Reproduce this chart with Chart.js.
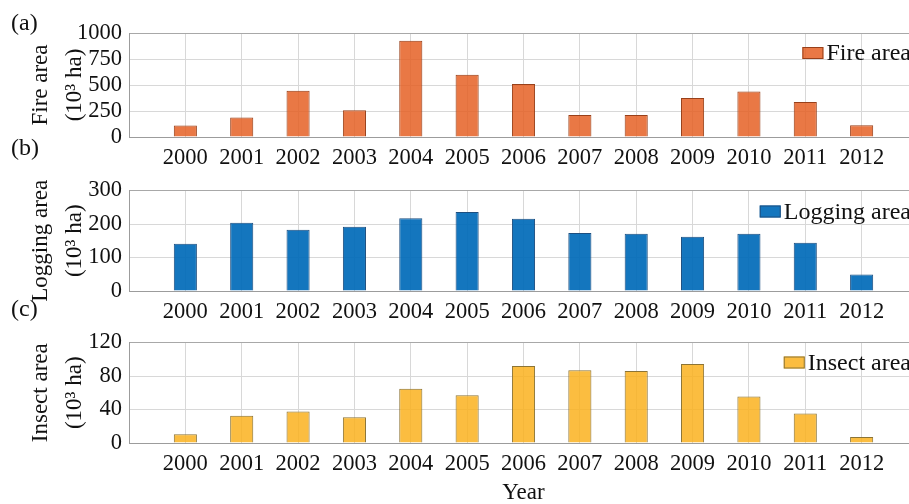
<!DOCTYPE html>
<html>
<head>
<meta charset="utf-8">
<script src="https://cdn.jsdelivr.net/npm/chart.js@4.4.0/dist/chart.umd.min.js"></script>
<style>
    html, body { margin: 0; padding: 0; background: #fff; }
    body { width: 909px; height: 504px; overflow: hidden; position: relative; }
    canvas { position: absolute; left: 0; }
    .panel-tag {
        position: absolute;
        left: 11px;
        font-family: "Liberation Serif", "Times New Roman", serif;
        font-size: 24px;
        line-height: 24px;
        color: #111;
    }
</style>
</head>
<body>
<canvas id="fireChart" width="940" height="170" style="top:0px"></canvas>
<canvas id="loggingChart" width="940" height="152" style="top:170px"></canvas>
<canvas id="insectChart" width="940" height="182" style="top:322px"></canvas>
<div class="panel-tag" style="top:10px">(a)</div>
<div class="panel-tag" style="top:135px">(b)</div>
<div class="panel-tag" style="top:296px">(c)</div>

<script>
// Data (10^3 ha)
const years = [2000, 2001, 2002, 2003, 2004, 2005, 2006, 2007, 2008, 2009, 2010, 2011, 2012];
const fireArea = [110, 188, 444, 257, 926, 599, 509, 212, 212, 376, 438, 336, 113];
const loggingArea = [141, 204, 183, 192, 217, 236, 216, 173, 171, 162, 171, 144, 49];
const insectArea = [10.4, 32.6, 37.6, 30.6, 64.8, 57, 92, 87, 86, 94.4, 55.6, 35.2, 7.3];

// Tick labels
const fireTicks = [0, 250, 500, 750, 1000];
const loggingTicks = [0, 100, 200, 300];
const insectTicks = [0, 40, 80, 120];

const SERIF = '"Liberation Serif", "Times New Roman", serif';
const GRID = '#d8d8d8';
const AXIS = '#9c9c9c';

/**
 * Small legend drawn in the top right corner of the plot area
 */
const cornerLegend = {
    id: 'cornerLegend',
    afterDraw(chart, args, opts) {
        const ctx = chart.ctx;
        const area = chart.chartArea;
        ctx.save();
        ctx.font = '24px ' + SERIF;
        const textW = ctx.measureText(opts.label).width;
        const textX = 911 - textW;
        const midY = area.top + opts.dy;
        ctx.fillStyle = opts.fill;
        ctx.strokeStyle = opts.edge;
        ctx.lineWidth = 1;
        ctx.fillRect(textX - 24, midY - 6, 21, 12);
        ctx.strokeRect(textX - 24 + 0.5, midY - 6 + 0.5, 20, 11);
        ctx.fillStyle = '#111';
        ctx.textBaseline = 'middle';
        ctx.textAlign = 'left';
        ctx.fillText(opts.label, textX, midY + 1);
        ctx.restore();
    }
};

/**
 * Create one bar panel
 */
function createPanel(canvasId, values, yTicks, titleLines, legendLabel, fill, edge, layout) {
    const ctx = document.getElementById(canvasId).getContext('2d');

    return new Chart(ctx, {
        type: 'bar',
        data: {
            datasets: [{
                label: legendLabel,
                data: years.map((yr, i) => ({ x: yr, y: values[i] })),
                backgroundColor: fill,
                borderColor: edge,
                borderWidth: 1,
                barPercentage: 0.41,
                categoryPercentage: 1
            }]
        },
        options: {
            responsive: false,
            animation: false,
            layout: {
                padding: { top: layout.top, right: 22, left: 0, bottom: 0 }
            },
            plugins: {
                legend: { display: false },
                tooltip: { enabled: false },
                cornerLegend: { label: legendLabel, fill: fill, edge: edge, dy: layout.legendDy }
            },
            scales: {
                x: {
                    type: 'linear',
                    min: 1999,
                    max: 2013,
                    offset: false,
                    afterBuildTicks: scale => {
                        scale.ticks = years.map(v => ({ value: v }));
                    },
                    afterFit: scale => {
                        scale.height = layout.xHeight;
                    },
                    ticks: {
                        color: '#111',
                        padding: 8,
                        maxRotation: 0,
                        autoSkip: false,
                        font: { family: SERIF, size: 22.5 },
                        callback: v => String(v)
                    },
                    grid: {
                        color: GRID,
                        offset: false,
                        drawTicks: false
                    },
                    border: { color: AXIS },
                    title: {
                        display: !!layout.xTitle,
                        text: layout.xTitle || '',
                        color: '#111',
                        padding: 0,
                        font: { family: SERIF, size: 23, lineHeight: 1 }
                    }
                },
                y: {
                    min: yTicks[0],
                    max: yTicks[yTicks.length - 1],
                    afterBuildTicks: scale => {
                        scale.ticks = yTicks.map(v => ({ value: v }));
                    },
                    afterFit: scale => {
                        scale.width = 129;
                    },
                    ticks: {
                        color: '#111',
                        padding: 7,
                        autoSkip: false,
                        font: { family: SERIF, size: 22.5 },
                        callback: v => String(v)
                    },
                    grid: {
                        color: c => (c.tick && c.tick.value === yTicks[yTicks.length - 1]) ? '#a8a8a8' : GRID,
                        drawTicks: false
                    },
                    border: { color: AXIS },
                    title: {
                        display: true,
                        text: titleLines,
                        color: '#111',
                        padding: { top: 24, bottom: 0 },
                        font: { family: SERIF, size: 23, lineHeight: 1.48 }
                    }
                }
            }
        },
        plugins: [cornerLegend]
    });
}

createPanel('fireChart', fireArea, fireTicks, ['Fire area', '(10³ ha)'], 'Fire area',
    'rgba(229, 96, 37, 0.85)', '#98401a', { top: 33, xHeight: 33, legendDy: 20 });

createPanel('loggingChart', loggingArea, loggingTicks, ['Logging area', '(10³ ha)'], 'Logging area',
    'rgba(0, 106, 184, 0.92)', '#1d4f80', { top: 15, xHeight: 31, legendDy: 21 });

createPanel('insectChart', insectArea, insectTicks, ['Insect area', '(10³ ha)'], 'Insect area',
    'rgba(250, 178, 30, 0.85)', '#8c7435', { top: 17, xHeight: 61, legendDy: 20, xTitle: 'Year' });
</script>
</body>
</html>
